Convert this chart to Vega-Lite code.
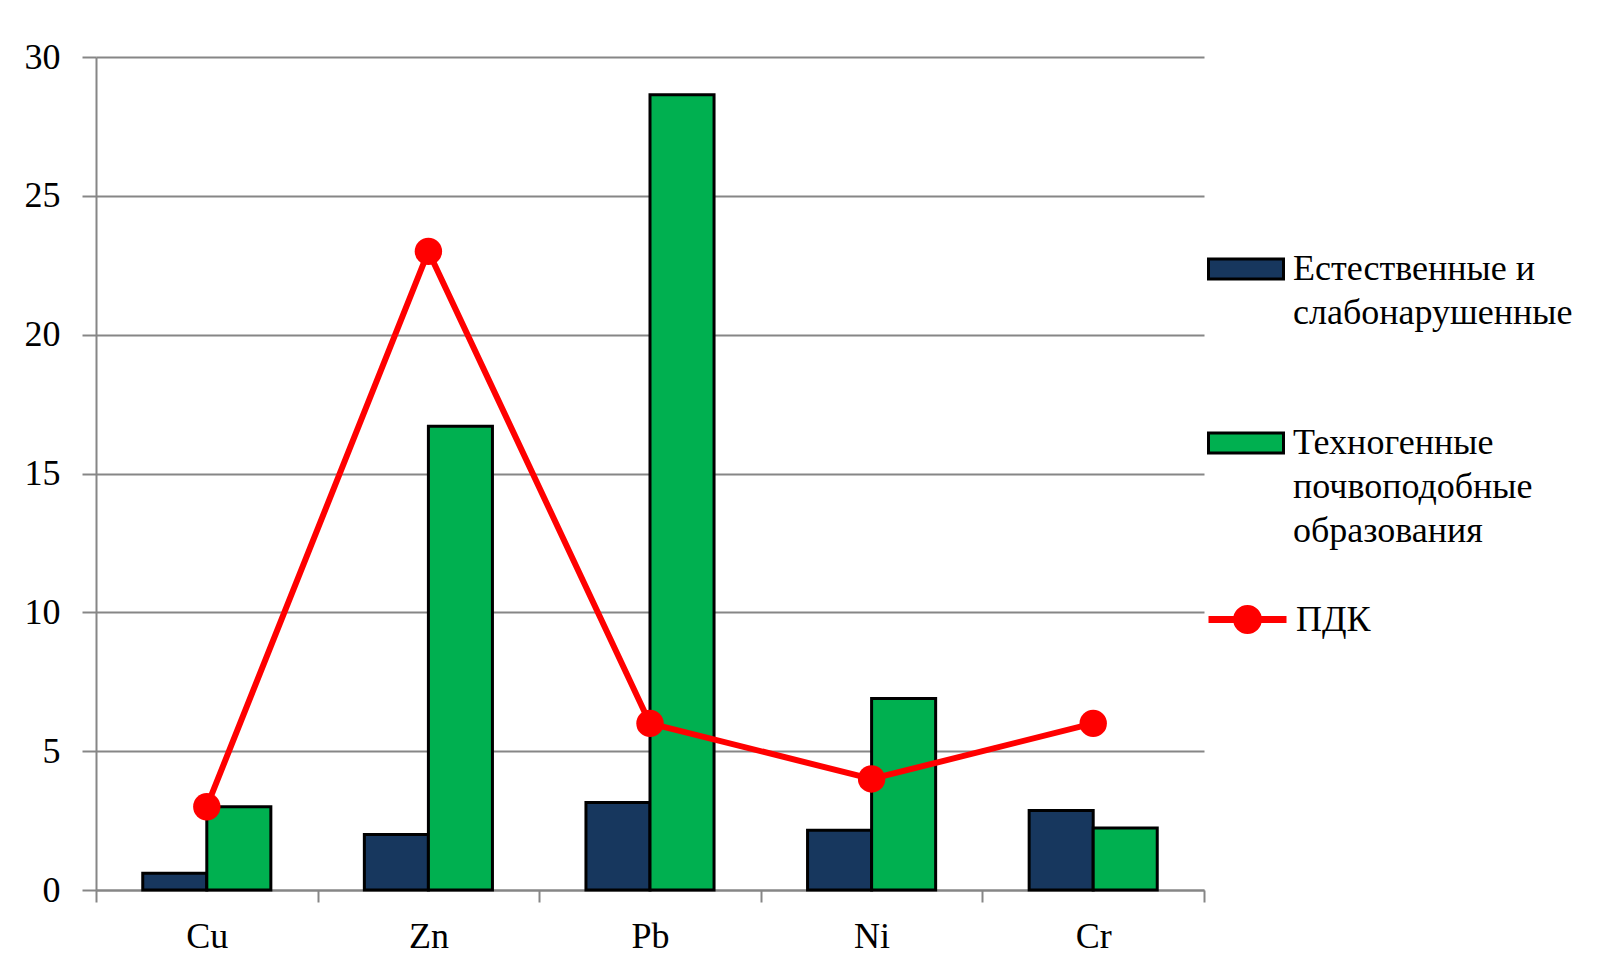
{
  "$schema": "https://vega.github.io/schema/vega-lite/v6.json",
  "width": 1108,
  "height": 833,
  "autosize": {"type": "none"},
  "padding": {"left": 96, "top": 57, "right": 411, "bottom": 88},
  "background": "white",
  "config": {
    "view": {"stroke": null},
    "font": "'Times New Roman', 'Liberation Serif', 'DejaVu Serif', 'Noto Serif', FreeSerif, serif",
    "style": {"guide-label": {"font": "'Times New Roman', 'Liberation Serif', 'DejaVu Serif', 'Noto Serif', FreeSerif, serif", "lineHeight": 44}},
    "axis": {"labelFont": "'Times New Roman', 'Liberation Serif', 'DejaVu Serif', 'Noto Serif', FreeSerif, serif", "labelColor": "black", "labelFontSize": 36, "title": null,
      "domainColor": "#868686", "domainWidth": 2, "tickColor": "#868686", "tickWidth": 2,
      "gridColor": "#868686", "gridWidth": 2},
    "legend": {"padding": 0, "labelFont": "'Times New Roman', 'Liberation Serif', 'DejaVu Serif', 'Noto Serif', FreeSerif, serif", "labelColor": "black", "labelFontSize": 36, "title": null}
  },
  "datasets": {
    "bars": [
      {"element": "Cu", "series": "Естественные и слабонарушенные", "value": 0.6},
      {"element": "Cu", "series": "Техногенные почвоподобные образования", "value": 3.0},
      {"element": "Zn", "series": "Естественные и слабонарушенные", "value": 2.0},
      {"element": "Zn", "series": "Техногенные почвоподобные образования", "value": 16.7},
      {"element": "Pb", "series": "Естественные и слабонарушенные", "value": 3.15},
      {"element": "Pb", "series": "Техногенные почвоподобные образования", "value": 28.64},
      {"element": "Ni", "series": "Естественные и слабонарушенные", "value": 2.15},
      {"element": "Ni", "series": "Техногенные почвоподобные образования", "value": 6.9},
      {"element": "Cr", "series": "Естественные и слабонарушенные", "value": 2.86},
      {"element": "Cr", "series": "Техногенные почвоподобные образования", "value": 2.23}
    ],
    "pdk": [
      {"element": "Cu", "name": "ПДК", "value": 3},
      {"element": "Zn", "name": "ПДК", "value": 23},
      {"element": "Pb", "name": "ПДК", "value": 6},
      {"element": "Ni", "name": "ПДК", "value": 4},
      {"element": "Cr", "name": "ПДК", "value": 6}
    ]
  },
  "layer": [
    {
      "data": {"name": "bars"},
      "mark": {"type": "bar", "stroke": "black", "strokeWidth": 3},
      "encoding": {
        "x": {"field": "element", "type": "nominal", "sort": ["Cu", "Zn", "Pb", "Ni", "Cr"],
          "scale": {"paddingInner": 0, "paddingOuter": 0},
          "axis": {"labelAngle": 0, "tickBand": "extent", "tickSize": 12, "labelPadding": 17, "grid": false}},
        "xOffset": {"field": "series", "type": "nominal",
          "sort": ["Естественные и слабонарушенные", "Техногенные почвоподобные образования"],
          "scale": {"paddingInner": 0, "paddingOuter": 0.73}},
        "y": {"field": "value", "type": "quantitative",
          "scale": {"domain": [0, 30], "nice": false},
          "axis": {"values": [0, 5, 10, 15, 20, 25, 30], "tickSize": 14, "labelPadding": 22, "grid": true}},
        "fill": {"field": "series", "type": "nominal",
          "scale": {"domain": ["Естественные и слабонарушенные", "Техногенные почвоподобные образования"], "range": ["#17375E", "#00B050"]},
          "legend": {"orient": "none", "legendX": 1111, "legendY": 184,
            "symbolType": "M-1,-0.56H1V-0.03H-1Z", "symbolSize": 5625,
            "symbolStrokeColor": "black", "symbolStrokeWidth": 3,
            "labelBaseline": "alphabetic", "labelOffset": 8,
            "rowPadding": 84, "labelLimit": 400,
            "labelExpr": "datum.label == 'Естественные и слабонарушенные' ? ['Естественные и', 'слабонарушенные'] : ['Техногенные', 'почвоподобные', 'образования']"}}
      }
    },
    {
      "data": {"name": "pdk"},
      "mark": {"type": "line", "strokeWidth": 6},
      "encoding": {
        "x": {"field": "element", "type": "nominal", "sort": ["Cu", "Zn", "Pb", "Ni", "Cr"]},
        "y": {"field": "value", "type": "quantitative"},
        "stroke": {"field": "name", "type": "nominal", "scale": {"domain": ["ПДК"], "range": ["#FF0000"]},
          "legend": {"orient": "none", "legendX": 1109, "legendY": 520,
            "symbolType": "M-1,0H1M0.28,0A0.28,0.28,0,1,1,-0.28,0A0.28,0.28,0,1,1,0.28,0Z",
            "symbolSize": 6084, "symbolStrokeWidth": 7, "symbolFillColor": "#FF0000", "symbolStrokeColor": "#FF0000",
            "labelBaseline": "middle", "labelOffset": 6}}
      }
    },
    {
      "data": {"name": "pdk"},
      "mark": {"type": "point", "filled": true, "size": 750, "color": "#FF0000", "opacity": 1},
      "encoding": {
        "x": {"field": "element", "type": "nominal", "sort": ["Cu", "Zn", "Pb", "Ni", "Cr"]},
        "y": {"field": "value", "type": "quantitative"}
      }
    }
  ]
}
